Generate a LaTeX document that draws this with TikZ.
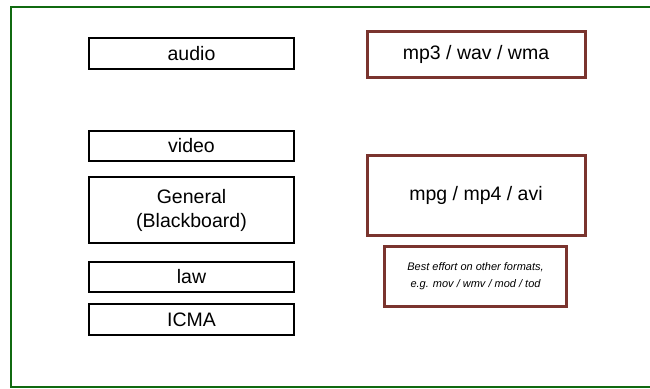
\documentclass[tikz,border=0pt]{standalone}
\usepackage{fontspec}
\setmainfont{Liberation Sans}
\definecolor{framegreen}{RGB}{16,106,16}
\definecolor{fmtred}{RGB}{122,52,46}
\begin{document}
\begin{tikzpicture}[x=1pt,y=-1pt,
  catbox/.style={draw=black,line width=2pt,rectangle,inner sep=0pt,
    font=\fontsize{19.5}{24}\selectfont,align=center},
  fmtbox/.style={draw=fmtred,line width=3pt,rectangle,inner sep=0pt,
    font=\fontsize{19.5}{24}\selectfont,align=center},
  notebox/.style={draw=fmtred,line width=3pt,rectangle,inner sep=0pt,
    font=\itshape\fontsize{11}{17}\selectfont,align=center}]
\useasboundingbox (0,0) rectangle (650,388);
% open green frame
\draw[framegreen,line width=2pt] (660,6.5) -- (10.5,6.5) -- (10.5,387) -- (660,387);

% categories
\node[catbox,minimum width=205pt,minimum height=31pt] (audio) at (191.5,53.5) {audio};
\node[catbox,minimum width=205pt,minimum height=30pt] (video) at (191.5,146) {video};
\node[catbox,minimum width=205pt,minimum height=66pt] (general) at (191.5,210) {General\\(Blackboard)};
\node[catbox,minimum width=205pt,minimum height=30pt] (law) at (191.5,277) {law};
\node[catbox,minimum width=205pt,minimum height=31pt] (icma) at (191.5,319.5) {ICMA};

% formats
\node[fmtbox,minimum width=218pt,minimum height=46pt] (audiofmt) at (476,54.5) {mp3 / wav / wma};
\node[fmtbox,minimum width=218pt,minimum height=80pt] (videofmt) at (476,195.5) {mpg / mp4 / avi};
\node[notebox,minimum width=182pt,minimum height=60pt] (note) at (475.5,276) {Best effort on other formats,\\e.g. mov / wmv / mod / tod};
\end{tikzpicture}
\end{document}
